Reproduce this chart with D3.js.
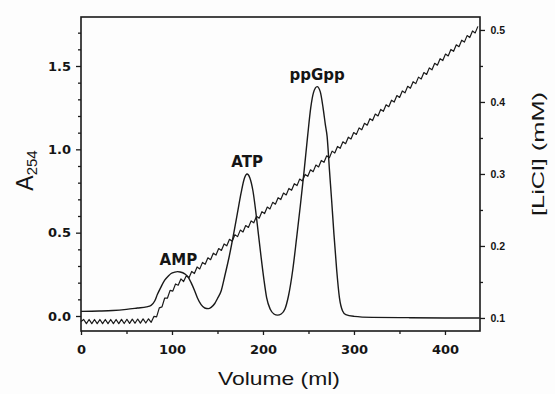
<!DOCTYPE html>
<html>
<head>
<meta charset="utf-8">
<script src="https://cdn.jsdelivr.net/npm/d3@7"></script>
<style>
  body { margin: 0; background: #fff; }
  svg { display: block; }
</style>
</head>
<body>
<div id="chart"></div>
<script>
// A254 trace (left axis)
const absVolume = [0, 20, 35, 50, 62, 72, 77, 81, 84, 88, 92, 96, 99, 103, 106, 109, 114, 118, 121, 125,
  128, 132, 136, 140, 143, 147, 150, 154, 158, 163, 168, 172, 176, 179.5, 182.5, 185.5, 189, 192, 195,
  198, 201, 204, 208, 212, 216, 220, 224, 228, 232.7, 237, 241, 245, 249, 252.5, 255.5, 259.5, 263,
  266, 268.5, 270.5, 273, 275.5, 278, 281, 284, 287.5, 291, 300, 320, 360, 400, 438];
const a254 = [0.028, 0.030, 0.033, 0.040, 0.048, 0.055, 0.064, 0.09, 0.13, 0.175, 0.215, 0.24, 0.255,
  0.263, 0.266, 0.264, 0.253, 0.232, 0.2, 0.15, 0.108, 0.068, 0.048, 0.044, 0.052, 0.075, 0.105, 0.15,
  0.24, 0.36, 0.5, 0.62, 0.74, 0.825, 0.852, 0.83, 0.75, 0.63, 0.49, 0.35, 0.22, 0.11, 0.04, 0.012,
  0.005, 0.012, 0.04, 0.12, 0.276, 0.47, 0.66, 0.86, 1.076, 1.25, 1.34, 1.376, 1.345, 1.25, 1.15,
  1.076, 0.88, 0.69, 0.49, 0.276, 0.11, 0.03, 0.008, -0.002, -0.008, -0.01, -0.012, -0.012];

// LiCl gradient (right axis)
const gradVolume = [0, 40, 76, 80, 84, 88, 93, 100, 108, 116, 124, 200, 300, 400, 438];
const licl = [0.095, 0.095, 0.096, 0.099, 0.106, 0.116, 0.127, 0.139, 0.150, 0.156, 0.164, 0.246, 0.355, 0.463, 0.504];

// peak labels
const peakNames = ['AMP', 'ATP', 'ppGpp'];
const peakVolumes = [107, 182.5, 259.5];

// ticks
const volumeTicks = [0, 100, 200, 300, 400];
const volumeMinor = [50, 150, 250, 350];
const aTicks = [0.0, 0.5, 1.0, 1.5];
const aMinor = [0.1, 0.2, 0.3, 0.4, 0.6, 0.7, 0.8, 0.9, 1.1, 1.2, 1.3, 1.4, 1.6, 1.7];
const liclTicks = [0.1, 0.2, 0.3, 0.4, 0.5];
const liclMinor = [0.15, 0.25, 0.35, 0.45];

const W = 555, H = 394;
const margin = { left: 81, right: 480, top: 17, bottom: 331 };
const ink = '#1a1a1a';

const svg = d3.select('#chart').append('svg')
  .attr('width', W)
  .attr('height', H);

svg.append('rect').attr('width', W).attr('height', H).attr('fill', '#fdfdfd');

const x = d3.scaleLinear().domain([0, 438.5]).range([margin.left, margin.right]);
const yA = d3.scaleLinear().domain([-0.09, 1.794]).range([margin.bottom, margin.top]);
const yL = d3.scaleLinear().domain([0.0819, 0.518]).range([margin.bottom, margin.top]);

// recorder pen ripple on the gradient trace: a zigzag line style
function curveRipple(context) {
  let pts = [];
  return {
    areaStart() {}, areaEnd() {},
    lineStart() { pts = []; },
    point(px, py) { pts.push([+px, +py]); },
    lineEnd() {
      if (pts.length < 2) return;
      const half = 2.7, amp = 2.1;
      const x0 = pts[0][0], x1 = pts[pts.length - 1][0];
      let j = 0, k = 0;
      context.moveTo(x0, pts[0][1]);
      for (let px = x0 + half; px <= x1; px += half) {
        while (j < pts.length - 2 && pts[j + 1][0] < px) j++;
        const [ax, ay] = pts[j], [bx, by] = pts[j + 1];
        const t = (px - ax) / (bx - ax);
        context.lineTo(px, ay + t * (by - ay) + (k++ % 2 ? amp : -amp));
      }
    }
  };
}

function styleTicks(g, family, size, weight) {
  g.select('.domain').remove();
  g.selectAll('line').attr('stroke', ink).attr('stroke-width', 1.3);
  g.selectAll('text')
    .style('font-family', family)
    .style('font-size', size + 'px')
    .style('font-weight', weight)
    .attr('fill', '#151515');
}

// bottom axis
svg.append('g').attr('transform', `translate(0,${margin.bottom})`)
  .call(d3.axisBottom(x).tickValues(volumeTicks).tickFormat(d3.format('d')).tickSize(4).tickPadding(10))
  .call(g => styleTicks(g, 'DejaVu Sans', 13, 'bold'));
svg.append('g').attr('transform', `translate(0,${margin.bottom})`)
  .call(d3.axisBottom(x).tickValues(volumeMinor).tickFormat('').tickSize(3))
  .call(g => styleTicks(g, 'DejaVu Sans', 13, 'bold'));

// left axis
svg.append('g').attr('transform', `translate(${margin.left},0)`)
  .call(d3.axisLeft(yA).tickValues(aTicks).tickFormat(d3.format('.1f')).tickSize(5).tickPadding(5))
  .call(g => styleTicks(g, 'DejaVu Sans', 13, 'bold'));
svg.append('g').attr('transform', `translate(${margin.left},0)`)
  .call(d3.axisLeft(yA).tickValues(aMinor).tickFormat('').tickSize(3))
  .call(g => styleTicks(g, 'DejaVu Sans', 13, 'bold'));

// right axis
svg.append('g').attr('transform', `translate(${margin.right},0)`)
  .call(d3.axisRight(yL).tickValues(liclTicks).tickFormat(d3.format('.1f')).tickSize(5).tickPadding(5.5))
  .call(g => styleTicks(g, 'Liberation Sans', 10.5, 'bold'));
svg.append('g').attr('transform', `translate(${margin.right},0)`)
  .call(d3.axisRight(yL).tickValues(liclMinor).tickFormat('').tickSize(3))
  .call(g => styleTicks(g, 'Liberation Sans', 10.5, 'bold'));

// frame
svg.append('rect')
  .attr('x', margin.left).attr('y', margin.top)
  .attr('width', margin.right - margin.left).attr('height', margin.bottom - margin.top)
  .attr('fill', 'none')
  .attr('stroke', ink)
  .attr('stroke-width', 1.6);

// gradient trace
const gradLine = d3.line()
  .x((d, i) => x(gradVolume[i]))
  .y(d => yL(d))
  .curve(curveRipple);
svg.append('path')
  .datum(licl)
  .attr('fill', 'none')
  .attr('stroke', ink)
  .attr('stroke-width', 1.2)
  .attr('stroke-linejoin', 'round')
  .attr('d', gradLine);

// absorbance trace
const absLine = d3.line()
  .x((d, i) => x(absVolume[i]))
  .y(d => yA(d))
  .curve(d3.curveMonotoneX);
svg.append('path')
  .datum(a254)
  .attr('fill', 'none')
  .attr('stroke', ink)
  .attr('stroke-width', 1.4)
  .attr('d', absLine);

// peak labels, placed just above the highest point near each peak
peakNames.forEach((name, i) => {
  const near = absVolume.map((v, j) => Math.abs(v - peakVolumes[i]) < 15 ? a254[j] : -Infinity);
  const peak = d3.max(near);
  svg.append('text')
    .attr('x', x(peakVolumes[i]))
    .attr('y', yA(peak) - 7)
    .attr('text-anchor', 'middle')
    .style('font-family', 'DejaVu Sans')
    .style('font-weight', 'bold')
    .style('font-size', '15px')
    .attr('fill', '#151515')
    .text(name);
});

// axis titles
svg.append('text')
  .attr('x', (margin.left + margin.right) / 2 - 1.5)
  .attr('y', 385)
  .attr('text-anchor', 'middle')
  .attr('textLength', 122)
  .attr('lengthAdjust', 'spacingAndGlyphs')
  .style('font-family', 'Liberation Sans')
  .style('font-size', '18.5px')
  .attr('fill', '#151515')
  .text('Volume (ml)');

const aTitle = svg.append('text')
  .attr('transform', 'translate(33,170.5) rotate(-90)')
  .attr('text-anchor', 'middle')
  .style('font-family', 'Liberation Sans')
  .attr('fill', '#151515');
aTitle.append('tspan').style('font-size', '23px').text('A');
aTitle.append('tspan').attr('dy', 4).style('font-size', '15px').text('254');

svg.append('text')
  .attr('transform', 'translate(544,154) rotate(-90)')
  .attr('text-anchor', 'middle')
  .attr('textLength', 124)
  .attr('lengthAdjust', 'spacingAndGlyphs')
  .style('font-family', 'Liberation Sans')
  .style('font-size', '17px')
  .attr('fill', '#151515')
  .text('[LiCl] (mM)');
</script>
</body>
</html>
